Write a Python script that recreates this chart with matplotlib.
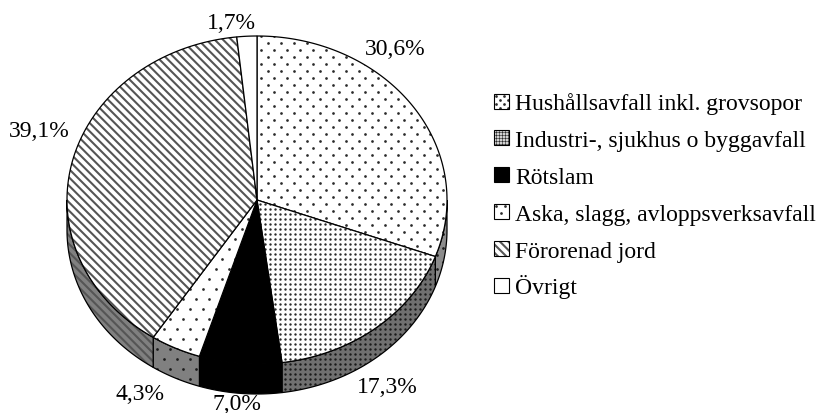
"""Tredimensionellt cirkeldiagram med mönstrade sektorer och förklaring."""

import numpy as np
import matplotlib
matplotlib.use("Agg")
import matplotlib.pyplot as plt
from matplotlib.patches import Polygon, Rectangle

categories = [
    "Hushållsavfall inkl. grovsopor",
    "Industri-, sjukhus o byggavfall",
    "Rötslam",
    "Aska, slagg, avloppsverksavfall",
    "Förorenad jord",
    "Övrigt",
]
shares = [30.6, 17.3, 7.0, 4.3, 39.1, 1.7]
value_labels = ["30,6%", "17,3%", "7,0%", "4,3%", "39,1%", "1,7%"]

# dot lattice per slice: (column pitch, row pitch, staggered, marker size), None = no dots
dots = [(13, 7, True, 3.8), (5, 5, False, 3.0), None, (13, 10, True, 3.8), None, None]
# how much tighter the lattice is drawn in the legend box
legend_tight = [0.6, 0.6, 1.0, 0.7, 1.0, 1.0]
stripes = [None, None, None, None, "\\\\\\\\", None]
top_fill = ["white", "white", "black", "white", "white", "white"]
side_fill = ["#8c8c8c", "#707070", "black", "#808080", "#808080", "white"]
# label baselines in pixels
label_pos = [(395, 55), (387, 393), (237, 410.5), (140, 400), (39, 137), (231, 29)]

CX, CY = 257, 201
RX, RY = 190, 164
DEPTH = 30

plt.rcParams["font.family"] = ["Liberation Serif", "DejaVu Serif"]
plt.rcParams["hatch.linewidth"] = 1.5

fig = plt.figure(figsize=(8.2, 4.14), dpi=100)
ax = fig.add_axes([0, 0, 1, 1])
ax.set_xlim(0, 820)
ax.set_ylim(414, 0)
ax.axis("off")


def rim(a0, a1):
    # clockwise from 12 o'clock, degrees
    t = np.radians(np.linspace(a0, a1, max(int(abs(a1 - a0)) * 2, 2)))
    return np.column_stack([CX + RX * np.sin(t), CY - RY * np.cos(t)])


def textured(patch, i, x0, x1, y0, y1, dot_color="#2a2a2a", tight=1.0):
    # fill + clipped dot texture for one shape
    patch.set(hatch=stripes[i], edgecolor="#555555", linewidth=0)
    ax.add_patch(patch)
    if dots[i] is not None:
        px, py, stagger, size = dots[i]
        px, py = px * tight, py * tight
        xs, ys = [], []
        for r, y in enumerate(np.arange(y0, y1 + py, py)):
            off = px / 2 if stagger and r % 2 else 0
            row = np.arange(x0 + off, x1 + px, px)
            xs.extend(row)
            ys.extend([y] * len(row))
        sc = ax.scatter(xs, ys, s=size, c=dot_color, marker="o", linewidths=0)
        sc.set_clip_path(patch)


edges = np.concatenate([[0], np.cumsum(shares)]) * 3.6

# side wall, only the part facing the viewer (90-270 degrees)
for i in range(len(shares)):
    a0, a1 = max(edges[i], 90), min(edges[i + 1], 270)
    if a1 <= a0:
        continue
    upper = rim(a0, a1)
    pts = np.vstack([upper, upper[::-1] + [0, DEPTH]])
    textured(Polygon(pts, closed=True, facecolor=side_fill[i]), i, 60, 450, 200, 400,
             dot_color="#1a1a1a")
    ax.add_patch(Polygon(pts, closed=True, fill=False, edgecolor="black", linewidth=0.9))

# top face
for i in range(len(shares)):
    pts = np.vstack([[CX, CY], rim(edges[i], edges[i + 1])])
    textured(Polygon(pts, closed=True, facecolor=top_fill[i]), i, 60, 450, 30, 370)
    ax.add_patch(Polygon(pts, closed=True, fill=False, edgecolor="black", linewidth=0.9))

for txt, (x, y) in zip(value_labels, label_pos):
    ax.text(x, y, txt, fontsize=17, ha="center", va="baseline", color="black")

# legend rows
for i, name in enumerate(categories):
    base = 110.5 + i * 36.8
    box = Rectangle((494, base - 16), 15, 15, facecolor=top_fill[i])
    textured(box, i, 496, 509, base - 14, base - 1, tight=legend_tight[i])
    ax.add_patch(Rectangle((494, base - 16), 15, 15, fill=False, edgecolor="black", linewidth=0.8))
    ax.text(515, base, name, fontsize=17, ha="left", va="baseline", color="black")

fig.savefig("out.png", dpi=100)
